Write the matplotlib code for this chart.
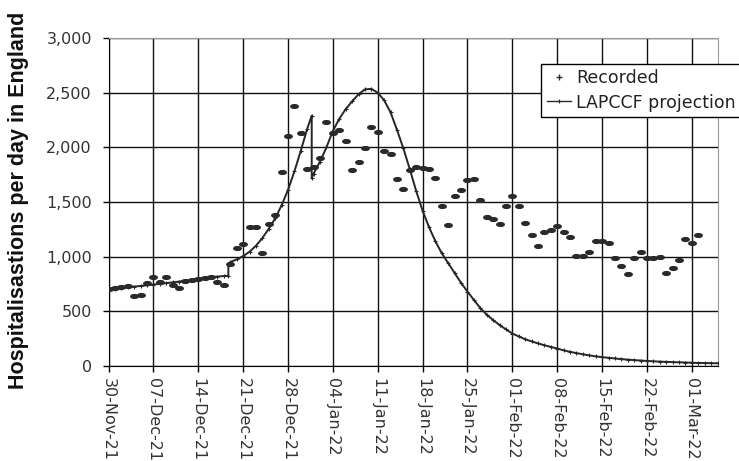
import numpy as np
import pandas as pd
import matplotlib
matplotlib.use("Agg")
import matplotlib.pyplot as plt
import matplotlib.dates as mdates
from matplotlib.path import Path
from matplotlib.transforms import Affine2D
from matplotlib.lines import Line2D
from matplotlib.ticker import StrMethodFormatter

plt.rcParams['font.family'] = ['DejaVu Sans']

start = pd.Timestamp('2021-11-30')
end = pd.Timestamp('2022-03-05')

# recorded hospitalisations, one per day from 30-Nov-21
recorded = [700,
            710, 720, 735, 640, 645, 755, 815, 770, 815, 740,
            710, 780, 790, 800, 805, 815, 770, 745, 935, 1080,
            1120, 1270, 1270, 1030, 1300, 1380, 1770, 2100, 2380, 2130, 1800,
            1820, 1900, 2230, 2130, 2160, 2060, 1790, 1870, 1990, 2190,
            2140, 1965, 1940, 1710, 1620, 1790, 1820, 1810, 1800, 1720,
            1460, 1290, 1555, 1610, 1700, 1710, 1520, 1360, 1340, 1300, 1460,
            1555, 1460, 1310, 1195, 1100, 1225, 1245, 1280, 1230, 1180,
            1005, 1005, 1045, 1145, 1145, 1125, 990, 915, 845, 985,
            1045, 990, 985, 1000, 855, 900, 970, 1160,
            1125, 1200]

# projection: day offsets from 30-Nov-21 (jumps have two values on one day)
proj_days = list(range(0, 19)) + [18.7, 18.7] + list(range(19, 32)) + [31.7, 31.7] + list(range(32, 96))
projection = [700, 707, 714, 720, 726, 732, 738, 745, 752, 758,
              765, 772, 779, 788, 798, 806, 812, 818, 823,
              826, 935,
              950, 975, 1005, 1045, 1100, 1170, 1255, 1350, 1470, 1610, 1780, 1970, 2170,
              2290, 1720,
              1760, 1870, 2000, 2150, 2260, 2350, 2420, 2485, 2530, 2535,
              2500, 2430, 2320, 2160, 1990, 1800, 1600, 1420, 1270, 1140,
              1030, 940, 850, 760, 680, 605, 530, 470, 420, 375,
              335, 297, 270, 245, 225, 207, 190, 175, 160, 143,
              130, 118, 107, 97, 88, 81, 75, 69, 63, 58,
              54, 50, 46, 43, 40, 38, 36, 34, 32, 30,
              28, 27, 26, 25]

rec_dates = start + pd.to_timedelta(np.arange(len(recorded)), unit='D')
proj_dates = start + pd.to_timedelta(np.array(proj_days, dtype=float), unit='D')

fig = plt.figure(figsize=(7.39, 4.61), dpi=100)
ax = fig.add_axes([108.5/739, 1-366/461, (717.5-108.5)/739, (366-38)/461])

ell = Path.unit_circle().transformed(Affine2D().scale(1, 0.5))

ax.plot(proj_dates, projection, color='#262626', lw=1.4, marker='+', ms=2.5, mew=0.8, zorder=3)
ax.plot(rec_dates, recorded, ls='none', marker=ell, ms=5.4, color='#2a2a2a', zorder=4)

ax.set_xlim(start, end)
ax.set_ylim(0, 3000)
ax.set_yticks(np.arange(0, 3001, 500))
ax.yaxis.set_major_formatter(StrMethodFormatter('{x:,.0f}'))
ax.set_xticks(pd.date_range(start, end, freq='7D'))
ax.xaxis.set_major_formatter(mdates.DateFormatter('%d-%b-%y'))
for lab in ax.get_xticklabels():
    lab.set_rotation(270)
    lab.set_ha('center')
    lab.set_va('top')

ax.tick_params(axis='both', direction='out', length=4.5, width=1, color='black',
               labelsize=11.5, labelcolor='#333333')
ax.tick_params(axis='y', pad=7.5)
ax.tick_params(axis='x', pad=4)
ax.grid(True, color='#111111', lw=1)
ax.set_axisbelow(True)
for s in ['left', 'bottom']:
    ax.spines[s].set_color('black')
for s in ['top', 'right']:
    ax.spines[s].set_color('#9a9a9a')

ax.set_ylabel('Hospitalisastions per day in England', fontsize=15.5, fontweight='bold',
              color='#111111', family=['Liberation Sans', 'DejaVu Sans'])
ax.yaxis.set_label_coords(-0.13, 0.505)

handles = [Line2D([], [], ls='none', marker='+', ms=4, mew=1, color='#2a2a2a'),
           Line2D([], [], color='#2a2a2a', lw=1, marker='+', ms=3, mew=0.8)]
leg = ax.legend(handles, ['Recorded', 'LAPCCF projection'], loc='upper left',
                bbox_to_anchor=(0.711, 0.92), fontsize=12.5, frameon=True, fancybox=False,
                edgecolor='black', framealpha=1, borderpad=0.3, handlelength=1.4,
                handletextpad=0.3, labelspacing=0.35, borderaxespad=0)
leg.get_frame().set_linewidth(1)
for t in leg.get_texts():
    t.set_color('#222222')

fig.savefig('out.png', dpi=100)
